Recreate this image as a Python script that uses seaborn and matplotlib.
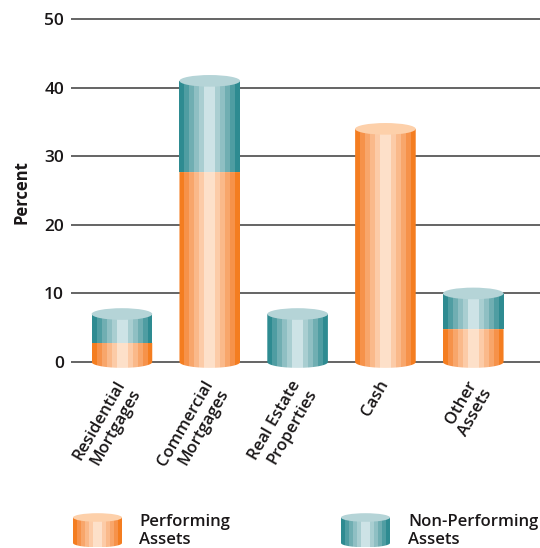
import numpy as np
import pandas as pd
import matplotlib
matplotlib.use("Agg")
import matplotlib.pyplot as plt
from matplotlib.path import Path
from matplotlib.patches import Ellipse, PathPatch
from matplotlib.colors import to_rgb
from matplotlib.transforms import ScaledTranslation
import seaborn as sns

# ---- data -------------------------------------------------------------
categories = ["Residential\nMortgages", "Commercial\nMortgages",
              "Real Estate\nProperties", "Cash", "Other\nAssets"]
performing = [2.8, 27.7, 0.0, 34.0, 4.8]
non_performing = [4.2, 13.3, 7.0, 0.0, 5.2]
y_ticks = [0, 10, 20, 30, 40, 50]
series_names = ["Performing\nAssets", "Non-Performing\nAssets"]

# ---- styling ----------------------------------------------------------
ORANGE_STRIPES = ["#F47D20", "#F6924A", "#F8A66B", "#FAB98A", "#FCCBA7", "#FDE0C9"]
TEAL_STRIPES = ["#2E8B91", "#4F9DA2", "#70AEB2", "#8FBFC3", "#A9CED1", "#CDE3E6"]
ORANGE_TOP = "#FDD0AA"
TEAL_TOP = "#B5D4D7"
TEXT = "#1a1718"
GRID = "#3a3a3a"
WEIGHT = 600
FS = 12

sns.set_theme(style="white")
plt.rcParams["font.family"] = ["Open Sans", "DejaVu Sans"]
plt.rcParams["font.weight"] = WEIGHT

df = pd.DataFrame({"category": categories,
                   "performing": performing,
                   "non_performing": non_performing})
df["total"] = df["performing"] + df["non_performing"]

fig = plt.figure(figsize=(5.4, 5.48), dpi=100)
ax = fig.add_axes([71 / 540, 0.3206, 1 - 71 / 540, 0.657])

# stacked bars: full total underneath, performing share on top of it
sns.barplot(data=df, x="category", y="total", color=TEAL_STRIPES[0],
            width=0.69, errorbar=None, ax=ax)
sns.barplot(data=df, x="category", y="performing", color=ORANGE_STRIPES[0],
            width=0.69, errorbar=None, ax=ax)


def stripe_image(colors):
    rgb = [to_rgb(c) for c in colors]
    return np.array([rgb + rgb[::-1]])


def cylinder_segment(axis, x0, w, lo, hi, ry, stripes, top_color,
                     with_base, with_top, z=2):
    cx = x0 + w / 2
    if with_base:
        t = np.linspace(np.pi, 2 * np.pi, 80)
        arc = np.column_stack([cx + w / 2 * np.cos(t), lo + ry * np.sin(t)])
        verts = [(x0, hi)] + arc.tolist() + [(x0 + w, hi), (x0, hi)]
    else:
        verts = [(x0, hi), (x0, lo), (x0 + w, lo), (x0 + w, hi), (x0, hi)]
    clip = PathPatch(Path(verts, closed=True), transform=axis.transData,
                     facecolor="none", edgecolor="none")
    axis.add_patch(clip)
    im = axis.imshow(stripe_image(stripes),
                     extent=[x0, x0 + w, lo - ry, hi],
                     aspect="auto", interpolation="nearest", zorder=z)
    im.set_clip_path(clip)
    if with_top:
        axis.add_patch(Ellipse((cx, hi), w, 2 * ry, facecolor=top_color,
                               edgecolor="none", zorder=z + 1))


n = len(categories)
total_bars = ax.patches[:n]
perf_bars = ax.patches[n:2 * n]
RY = 0.85
for tb, pb in zip(total_bars, perf_bars):
    x0, w = tb.get_x(), tb.get_width()
    p_top, t_top = pb.get_height(), tb.get_height()
    segs = []
    if p_top > 0:
        segs.append((0.0, p_top, ORANGE_STRIPES, ORANGE_TOP))
    if t_top > p_top:
        segs.append((p_top, t_top, TEAL_STRIPES, TEAL_TOP))
    for k, (lo, hi, stripes, top) in enumerate(segs):
        cylinder_segment(ax, x0, w, lo, hi, RY, stripes, top,
                         with_base=(k == 0), with_top=(k == len(segs) - 1))
    tb.set_visible(False)
    pb.set_visible(False)

ax.set_xlim(-0.58, 4.76)
ax.set_ylim(-1.5, 51)
ax.set_yticks(y_ticks)
ax.yaxis.grid(True, color=GRID, linewidth=1.1)
ax.xaxis.grid(False)
ax.set_axisbelow(True)
for s in ax.spines.values():
    s.set_visible(False)
ax.set_facecolor("none")

ax.tick_params(axis="y", length=0, pad=5, labelsize=12.5, labelcolor=TEXT)
ax.tick_params(axis="x", length=0, pad=6)
ax.set_xlabel("")
ax.set_xticks(range(n))
ax.set_xticklabels(categories, rotation=60, ha="right", va="top",
                   rotation_mode="anchor", fontsize=FS, color=TEXT,
                   linespacing=1.15, fontweight=WEIGHT)
shift = ScaledTranslation(-7 / 100, 3 / 100, fig.dpi_scale_trans)
for lab in ax.get_xticklabels():
    lab.set_transform(lab.get_transform() + shift)
for lab in ax.get_yticklabels():
    lab.set_fontweight(WEIGHT)
ax.set_ylabel("Percent", fontsize=FS, fontweight="bold", color=TEXT,
              labelpad=10)

# ---- legend drawn in pixel coordinates ----------------------------------
lg = fig.add_axes([0, 0, 1, 1], zorder=5)
lg.set_xlim(0, 540)
lg.set_ylim(0, 548)
lg.axis("off")
lg.patch.set_visible(False)
legend_items = [(73, ORANGE_STRIPES, ORANGE_TOP, 139),
                (341, TEAL_STRIPES, TEAL_TOP, 408)]
for (lx, stripes, top, tx), name in zip(legend_items, series_names):
    cylinder_segment(lg, lx, 49, 548 - 543, 548 - 517.5, 4.3, stripes, top,
                     with_base=True, with_top=True)
    lg.text(tx, 548 - 514.5, name, fontsize=FS, color=TEXT, va="top",
            ha="left", linespacing=1.15, fontweight=WEIGHT)

fig.savefig("out.png", dpi=100)
